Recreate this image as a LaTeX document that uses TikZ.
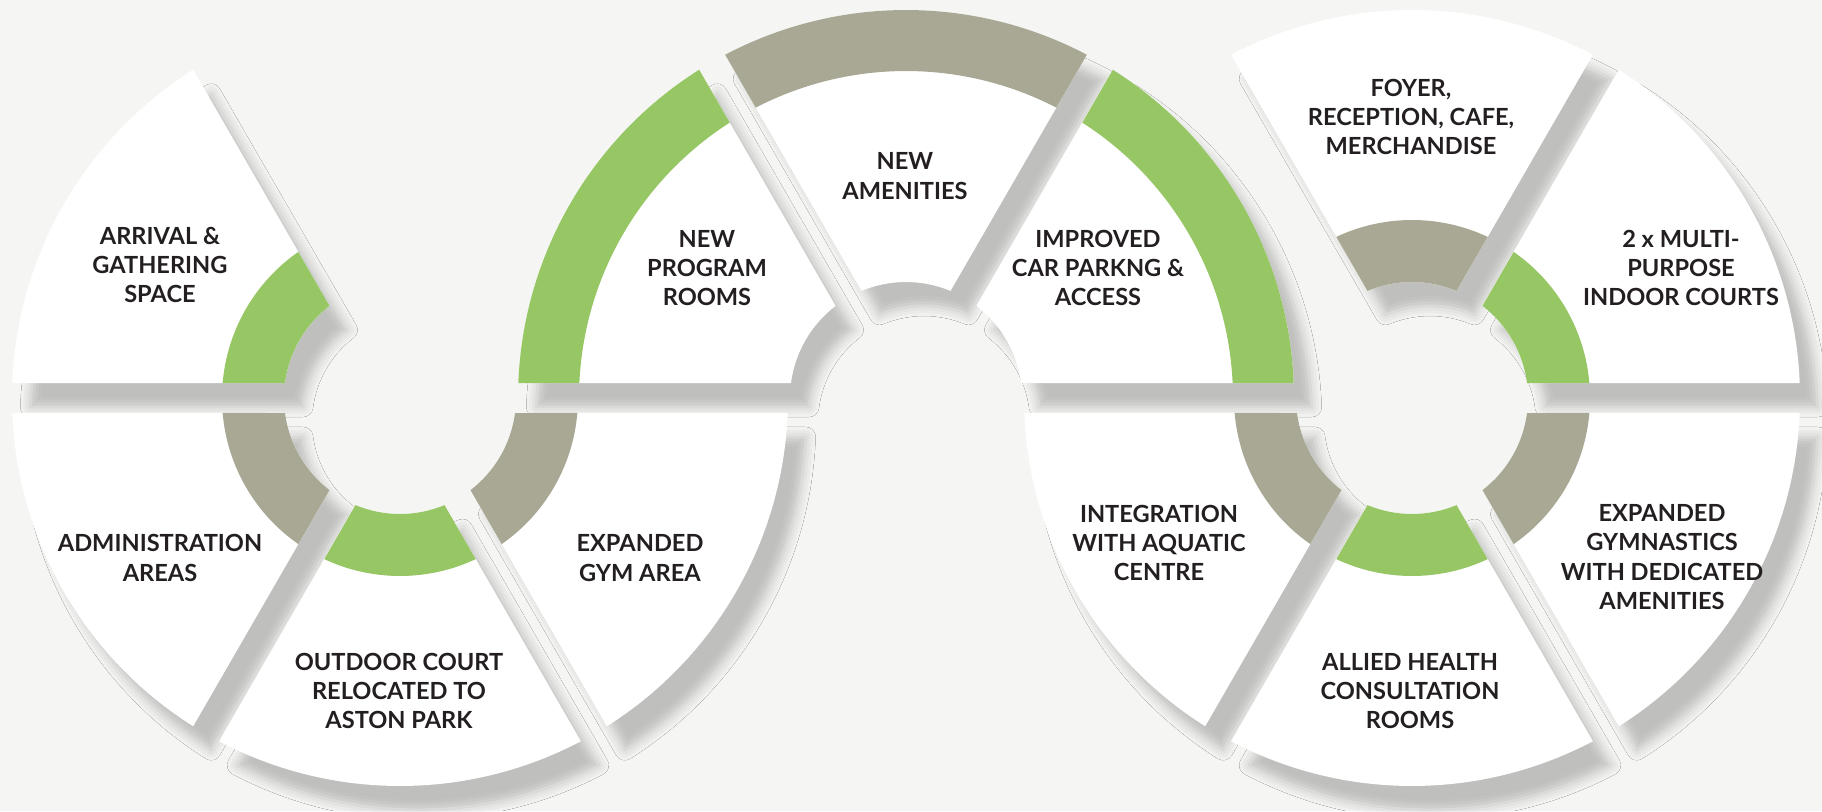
\documentclass[tikz,border=0pt]{standalone}
\usepackage{fontspec}
\setmainfont{Lato}
\usetikzlibrary{shadows.blur}
\definecolor{bgc}{HTML}{F5F5F3}
\definecolor{grn}{HTML}{97C665}
\definecolor{gry}{HTML}{A8A894}
\definecolor{txt}{HTML}{231F20}
\newcommand\gapw{15}
\newcommand\wcalc[4]{%
  \pgfmathsetmacro\wA{#1+asin(\gapw/#3)}%
  \pgfmathsetmacro\wB{#1+asin(\gapw/#4)}%
  \pgfmathsetmacro\wC{#2-asin(\gapw/#4)}%
  \pgfmathsetmacro\wD{#2-asin(\gapw/#3)}%
}
\newcommand\wshadow[3]{%
  \wcalc{#2}{#3}{116}{388}%
  \path[shift={(#1)}, blur shadow={shadow xshift=9pt, shadow yshift=-12pt, shadow blur radius=5pt, shadow opacity=22}]
    (\wA:116) -- (\wB:388) arc[start angle=\wB, end angle=\wC, radius=388]
    -- (\wD:116) arc[start angle=\wD, end angle=\wA, radius=116] -- cycle;
}
\newcommand\wfill[6]{%
  \wcalc{#2}{#3}{#4}{#5}%
  \fill[#6, shift={(#1)}]
    (\wA:#4) -- (\wB:#5) arc[start angle=\wB, end angle=\wC, radius=#5]
    -- (\wD:#4) arc[start angle=\wD, end angle=\wA, radius=#4] -- cycle;
}
\tikzset{lbl/.style={font=\bfseries\fontsize{11.8}{14.6}\selectfont, text=txt, align=center, inner sep=0pt}}
\begin{document}
\begin{tikzpicture}[x=0.5pt, y=0.5pt]
\fill[bgc] (0,0) rectangle (1822,811);
\useasboundingbox (0,0) rectangle (1822,811);
\coordinate (L) at (400,413);
\coordinate (M) at (906,413);
\coordinate (R) at (1412,413);
% shadows
\wshadow{L}{120}{180}
\wshadow{L}{180}{240}
\wshadow{L}{240}{300}
\wshadow{L}{300}{360}
\wshadow{M}{0}{60}
\wshadow{M}{60}{120}
\wshadow{M}{120}{180}
\wshadow{R}{0}{60}
\wshadow{R}{60}{120}
\wshadow{R}{180}{240}
\wshadow{R}{240}{300}
\wshadow{R}{300}{360}
% left ring
\wfill{L}{120}{180}{116}{388}{white}\wfill{L}{120}{180}{116}{178}{grn}
\wfill{L}{180}{240}{116}{388}{white}\wfill{L}{180}{240}{116}{178}{gry}
\wfill{L}{240}{300}{116}{388}{white}\wfill{L}{240}{300}{116}{178}{grn}
\wfill{L}{300}{360}{116}{388}{white}\wfill{L}{300}{360}{116}{178}{gry}
% middle ring
\wfill{M}{0}{60}{116}{388}{white}\wfill{M}{0}{60}{327}{388}{grn}
\wfill{M}{60}{120}{116}{388}{white}\wfill{M}{60}{120}{327}{388}{gry}
\wfill{M}{120}{180}{116}{388}{white}\wfill{M}{120}{180}{327}{388}{grn}
% right ring
\wfill{R}{0}{60}{116}{388}{white}\wfill{R}{0}{60}{116}{178}{grn}
\wfill{R}{60}{120}{116}{388}{white}\wfill{R}{60}{120}{116}{178}{gry}
\wfill{R}{180}{240}{116}{388}{white}\wfill{R}{180}{240}{116}{178}{gry}
\wfill{R}{240}{300}{116}{388}{white}\wfill{R}{240}{300}{116}{178}{grn}
\wfill{R}{300}{360}{116}{388}{white}\wfill{R}{300}{360}{116}{178}{gry}
% labels
\node[lbl] (arrival) at (160,546) {ARRIVAL \&\\GATHERING\\SPACE};
\node[lbl] (admin) at (160,253) {ADMINISTRATION\\AREAS};
\node[lbl] (outdoor) at (399,120) {OUTDOOR COURT\\RELOCATED TO\\ASTON PARK};
\node[lbl] (gymarea) at (640,253) {EXPANDED\\GYM AREA};
\node[lbl] (program) at (707,543) {NEW\\PROGRAM\\ROOMS};
\node[lbl] (amenities) at (905,635) {NEW\\AMENITIES};
\node[lbl] (parking) at (1098,543) {IMPROVED\\CAR PARKNG \&\\ACCESS};
\node[lbl] (foyer) at (1411,694) {FOYER,\\RECEPTION, CAFE,\\MERCHANDISE};
\node[lbl] (multi) at (1681,543) {2 x MULTI-\\PURPOSE\\INDOOR COURTS};
\node[lbl] (aquatic) at (1159,268) {INTEGRATION\\WITH AQUATIC\\CENTRE};
\node[lbl] (gymnastics) at (1662,254) {EXPANDED\\GYMNASTICS\\WITH DEDICATED\\AMENITIES};
\node[lbl] (allied) at (1410,120) {ALLIED HEALTH\\CONSULTATION\\ROOMS};
\end{tikzpicture}
\end{document}
